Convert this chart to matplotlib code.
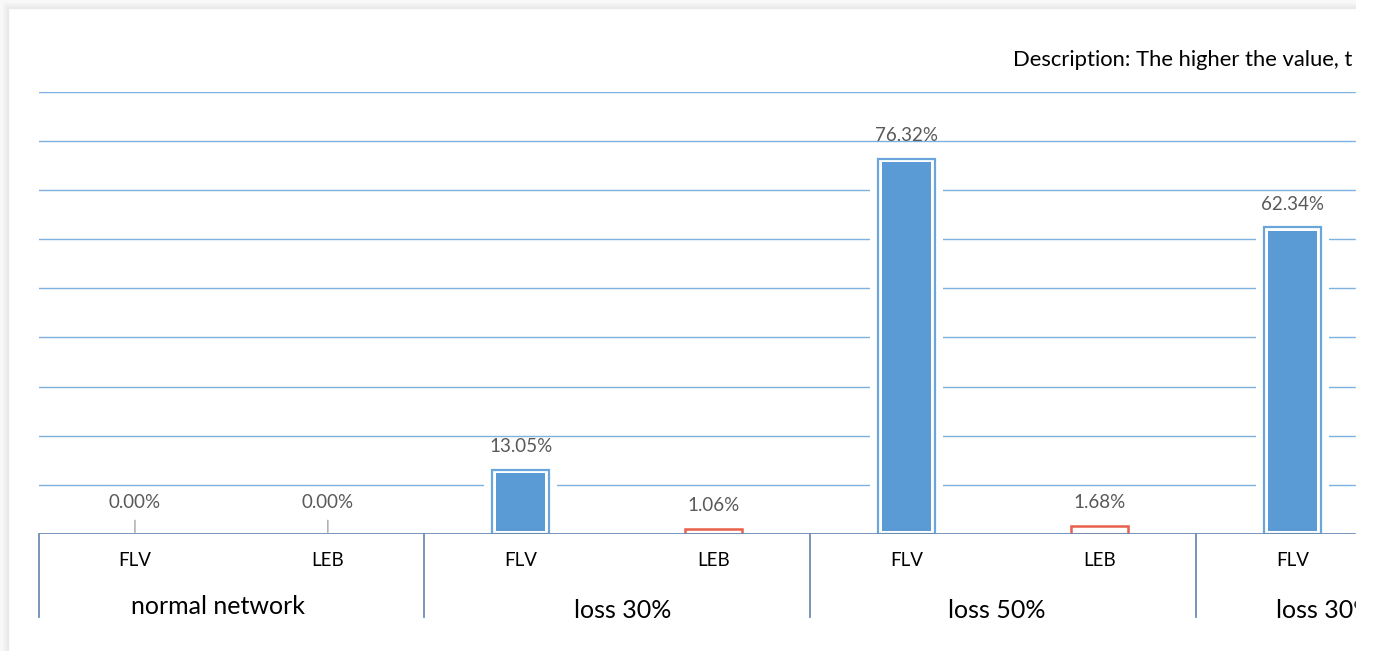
import matplotlib.pyplot as plt
from matplotlib.patches import Rectangle
from matplotlib.transforms import blended_transform_factory

categories = ['FLV', 'LEB', 'FLV', 'LEB', 'FLV', 'LEB', 'FLV']
values = [0.00, 0.00, 13.05, 1.06, 76.32, 1.68, 62.34]
groups = ['normal network', 'loss 30%', 'loss 50%', 'loss 30%']
description = 'Description: The higher the value, t'

W, H = 1376, 651
plt.rcParams['font.family'] = ['Lato', 'DejaVu Sans']

fig = plt.figure(figsize=(W / 100, H / 100), dpi=100)
fig.patch.set_facecolor('white')

# axes placed in pixel coords of the screenshot
x0, x1, y_base, y_top = 38.5, 1356, 534, 91.5
ax = fig.add_axes([x0 / W, 1 - y_base / H, (x1 - x0) / W, (y_base - y_top) / H])
ax.set_xlim(-0.5, 6.33)
ax.set_ylim(0, 90)
for s in ax.spines.values():
    s.set_visible(False)
ax.set_xticks([])
ax.set_yticks([])

for g in range(10, 91, 10):
    ax.axhline(g, color='#7fb1e0', lw=1, zorder=1)

bar_w = 0.295
gap_w = bar_w + 2 * 8 / 193
px_per_unit = (y_base - y_top) / 90
pad = 3.5 / px_per_unit

for i, (c, v) in enumerate(zip(categories, values)):
    if v <= 0:
        continue
    ax.bar(i, v, width=gap_w, color='white', zorder=2)
    if c == 'FLV':
        ax.bar(i, v, width=bar_w, facecolor='white', edgecolor='#6aa6dc', lw=1.6, zorder=3)
        ax.bar(i, v - 2 * pad, bottom=pad, width=bar_w - 2 * 4 / 193,
               color='#5b9bd5', zorder=4)
    else:
        ax.bar(i, v, width=bar_w, facecolor='white', edgecolor='#e8604a', lw=1.8, zorder=3)

for i, v in enumerate(values):
    lab = f'{v:.2f}%'
    if v == 0:
        ax.annotate(lab, xy=(i, 0), xytext=(0, 23), textcoords='offset points',
                    ha='center', va='center', fontsize=13.5, color='#595959',
                    arrowprops=dict(arrowstyle='-', color='#a6a6a6', lw=1,
                                    shrinkA=5, shrinkB=1), zorder=6)
    else:
        ax.annotate(lab, xy=(i, v), xytext=(0, 16.5), textcoords='offset points',
                    ha='center', va='center', fontsize=13.5, color='#595959', zorder=6)

# category axis
axis_col = '#6d8db5'
ax.axhline(0, color=axis_col, lw=1.3, zorder=5)
tr = blended_transform_factory(ax.transData, ax.transAxes)
sep_bottom = (y_base - 617) / (y_base - y_top)
for xs in [-0.5, 1.5, 3.5, 5.5]:
    ax.plot([xs, xs], [0, sep_bottom], transform=tr, color=axis_col, lw=1.3, clip_on=False)

cat_y = (y_base - 561) / (y_base - y_top)
for i, c in enumerate(categories):
    ax.text(i, cat_y, c, transform=tr, ha='center', va='center', fontsize=13.5, color='black')

group_x = [0.43, 2.53, 4.47, 6.17]
group_y = [(y_base - 607) / (y_base - y_top)] + [(y_base - 610) / (y_base - y_top)] * 3
for gx, gy, g in zip(group_x, group_y, groups):
    ax.text(gx, gy, g, transform=tr, ha='center', va='center', fontsize=18, color='black')

fig.text(1013 / W, 1 - 60 / H, description, ha='left', va='center', fontsize=15.8, color='black')

# screenshot frame: soft shadow on left/top, crop on the right
for k, col in enumerate(['#e9e9e9', '#eeeeee', '#f3f3f3', '#f8f8f8']):
    fig.patches.append(Rectangle((0, 0), (8 - 2 * k) / W, 1, transform=fig.transFigure,
                                 color=col, zorder=10 + k))
    fig.patches.append(Rectangle((0, 1 - (8 - 2 * k) / H), 1355 / W, (8 - 2 * k) / H,
                                 transform=fig.transFigure, color=col, zorder=10 + k))
fig.patches.append(Rectangle((1356 / W, 0), 20 / W, 1, transform=fig.transFigure,
                             color='white', zorder=20))

fig.savefig('out.png', dpi=100)
